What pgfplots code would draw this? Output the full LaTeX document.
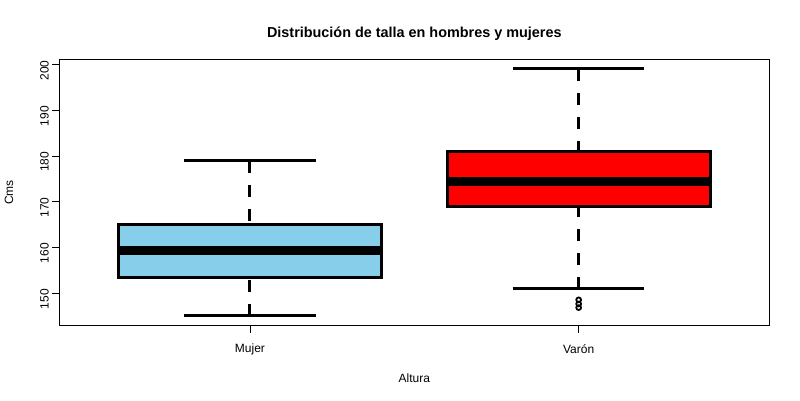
\documentclass[border=0pt]{standalone}
\usepackage{fontspec}
\setmainfont{Liberation Sans}
\usepackage{pgfplots}
\pgfplotsset{compat=1.18}
\definecolor{skyblue}{HTML}{87CEEB}
\definecolor{rred}{HTML}{FF0000}

\pgfplotsset{
  whisk/.style={black, line width=3pt, dash pattern=on 12pt off 12pt},
  staple/.style={black, line width=3pt},
  boxedge/.style={draw=black, line width=3pt, line join=miter},
  med/.style={black, line width=8.5pt},
}

\begin{document}
\begin{tikzpicture}
\path[use as bounding box] (0,0) rectangle (800pt,400pt);
\begin{axis}[
  at={(59.3pt,74.3pt)}, anchor=south west,
  scale only axis, width=710pt, height=266.4pt,
  xmin=0.42, xmax=2.58, ymin=142.84, ymax=201.16,
  xtick={1,2}, xticklabels={Mujer,Varón},
  ytick={150,160,...,200},
  xtick pos=left, ytick pos=left,
  tick align=outside, major tick length=7pt,
  tick style={black, line width=0.8pt},
  axis line style={line width=1pt},
  /pgf/number format/assume math mode=true,
  ticklabel style={font=\fontsize{12}{14}\selectfont},
  xticklabel style={yshift=-8pt},
  yticklabel style={rotate=90, anchor=south, xshift=-6pt},
  title={Distribución de talla en hombres y mujeres},
  title style={font=\bfseries\fontsize{14.4}{17}\selectfont, at={(0.5,1.072)}, anchor=center},
  xlabel={Altura},
  xlabel style={font=\fontsize{12}{14}\selectfont, at={(0.5,-0.196)}, anchor=center},
  ylabel={Cms},
  ylabel style={font=\fontsize{12}{14}\selectfont, at={(-0.0708,0.5)}, anchor=center},
]
% Mujer: whiskers 145 / 179, box 153.3 - 164.9, median 159.3
\addplot[whisk] coordinates {(1,145) (1,153.3)};
\addplot[whisk] coordinates {(1,179) (1,164.9)};
\addplot[staple] coordinates {(0.8,145) (1.2,145)};
\addplot[staple] coordinates {(0.8,179) (1.2,179)};
\addplot[boxedge, fill=skyblue] coordinates {(0.6,153.3) (1.4,153.3) (1.4,164.9) (0.6,164.9)} -- cycle;
\addplot[med] coordinates {(0.6,159.3) (1.4,159.3)};
% Varón: whiskers 150.9 / 199.1, box 168.9 - 181, median 174.4
\addplot[whisk] coordinates {(2,150.9) (2,168.9)};
\addplot[whisk] coordinates {(2,199.1) (2,181)};
\addplot[staple] coordinates {(1.8,150.9) (2.2,150.9)};
\addplot[staple] coordinates {(1.8,199.1) (2.2,199.1)};
\addplot[boxedge, fill=rred] coordinates {(1.6,168.9) (2.4,168.9) (2.4,181) (1.6,181)} -- cycle;
\addplot[med] coordinates {(1.6,174.4) (2.4,174.4)};
% outliers
\addplot[only marks, mark=o, mark size=2.4pt,
  mark options={draw=black, line width=1.8pt, solid}]
  coordinates {(2,148.5) (2,147.6) (2,146.8)};
\end{axis}
\end{tikzpicture}
\end{document}
